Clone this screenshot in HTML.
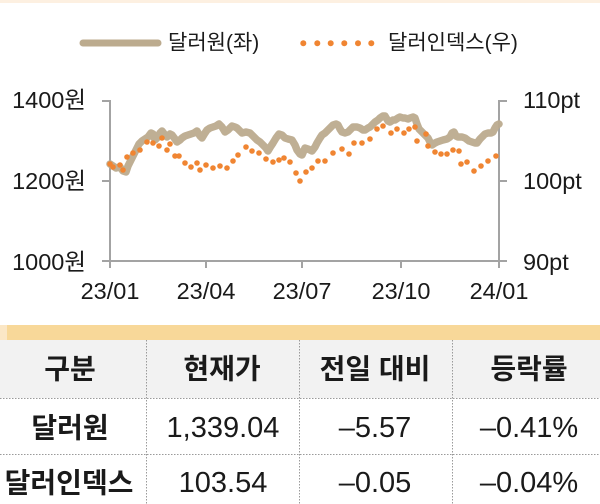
<!DOCTYPE html>
<html>
<head>
<meta charset="utf-8">
<style>
html,body{margin:0;padding:0;background:#fff;}
svg{display:block;}
text{font-family:"Liberation Sans","Noto Sans CJK KR",sans-serif;fill:#1a1a1a;}
</style>
</head>
<body>
<svg width="600" height="504" viewBox="0 0 600 504" xmlns="http://www.w3.org/2000/svg">
  <rect x="0" y="0" width="600" height="504" fill="#fff"/>
  <rect x="0" y="0" width="600" height="3" fill="#fdf0e1"/>

  <!-- Legend -->
  <line x1="83" y1="43" x2="158" y2="43" stroke="#bcab8e" stroke-width="7" stroke-linecap="round"/>
  <text x="168" y="43" font-size="21" dominant-baseline="central">달러원(좌)</text>
  <g fill="#f08532">
    <circle cx="303.3" cy="43.3" r="3"/>
    <circle cx="317.3" cy="43.3" r="3"/>
    <circle cx="330.7" cy="43.3" r="3"/>
    <circle cx="344.3" cy="43.3" r="3"/>
    <circle cx="358" cy="43.3" r="3"/>
    <circle cx="371.3" cy="43.3" r="3"/>
  </g>
  <text x="388" y="43" font-size="21" dominant-baseline="central">달러인덱스(우)</text>

  <!-- Axes -->
  <g stroke="#a3a3a3" stroke-width="2" fill="none">
    <line x1="110" y1="100" x2="110" y2="268"/>
    <line x1="102" y1="101" x2="110" y2="101"/>
    <line x1="102" y1="181" x2="110" y2="181"/>
    <line x1="102" y1="261" x2="110" y2="261"/>
    <line x1="499" y1="100" x2="499" y2="268"/>
    <line x1="499" y1="101" x2="507" y2="101"/>
    <line x1="499" y1="181" x2="507" y2="181"/>
    <line x1="499" y1="261" x2="507" y2="261"/>
    <line x1="110" y1="261" x2="499" y2="261"/>
    <line x1="206" y1="261" x2="206" y2="268"/>
    <line x1="302" y1="261" x2="302" y2="268"/>
    <line x1="401" y1="261" x2="401" y2="268"/>
  </g>

  <!-- Axis labels -->
  <g font-size="23.5">
    <text x="86" y="100" text-anchor="end" dominant-baseline="central">1400원</text>
    <text x="86" y="181" text-anchor="end" dominant-baseline="central">1200원</text>
    <text x="86" y="262" text-anchor="end" dominant-baseline="central">1000원</text>
    <text x="523" y="100" dominant-baseline="central">110pt</text>
    <text x="523" y="181" dominant-baseline="central">100pt</text>
    <text x="523" y="262" dominant-baseline="central">90pt</text>
    <text x="110" y="291" text-anchor="middle" dominant-baseline="central">23/01</text>
    <text x="206" y="291" text-anchor="middle" dominant-baseline="central">23/04</text>
    <text x="302" y="291" text-anchor="middle" dominant-baseline="central">23/07</text>
    <text x="401" y="291" text-anchor="middle" dominant-baseline="central">23/10</text>
    <text x="499" y="291" text-anchor="middle" dominant-baseline="central">24/01</text>
  </g>

  <!-- Dollar-won series -->
  <polyline fill="none" stroke="#bcab8e" stroke-width="7.5" stroke-linejoin="round" stroke-linecap="round" stroke-opacity="0.95"
    points="110,164 113,166 116,168 120,167 123,171 126,172 128,166 130,162 133,156 136,150 139,144 142,141 145,139 148,137 151,133 153,134 155,140 158,137 160,133 162,131 165,135 167,137 170,134 172,135 175,139 177,142 180,140 182,138 185,136 188,135 191,134 194,133 197,131 200,136 202,138 205,133 207,130 210,128 213,127 216,126 219,124 222,127 225,132 228,130 232,126 235,127 237,128 240,131 242,133 246,132 250,133 253,136 257,140 260,142 263,145 266,148 268,151 271,146 273,143 276,138 279,134 282,135 285,138 288,139 292,140 295,145 297,150 300,154 302,155 305,148 308,149 312,151 315,147 317,143 320,138 322,135 325,133 328,130 331,127 333,125 336,124 338,125 340,129 342,132 345,133 348,132 351,129 353,127 357,127 360,128 363,130 365,130 368,128 370,127 373,124 375,122 378,120 380,118 383,116 385,116 388,121 390,122 393,120 395,120 398,118 400,117 403,118 405,118 408,119 410,118 413,117 415,118 417,124 419,129 423,133 426,136 428,138 430,142 432,145 435,143 437,142 440,141 443,140 447,139 450,137 452,133 454,132 456,136 458,137 462,137 465,138 469,141 472,142 475,143 477,143 480,139 482,137 485,134 488,133 491,133 493,132 495,128 497,125 499,124"/>

  <!-- Dollar index dots -->
  <g fill="#f08532">
    <circle cx="110" cy="164" r="2.8"/><circle cx="113" cy="167" r="2.8"/><circle cx="120" cy="165" r="2.8"/>
    <circle cx="123" cy="170" r="2.8"/><circle cx="127" cy="157" r="2.8"/><circle cx="133" cy="153" r="2.8"/>
    <circle cx="140" cy="150" r="2.8"/><circle cx="147" cy="142" r="2.8"/><circle cx="153" cy="143" r="2.8"/>
    <circle cx="159" cy="146" r="2.8"/><circle cx="162" cy="138" r="2.8"/><circle cx="167" cy="150" r="2.8"/>
    <circle cx="170" cy="144" r="2.8"/><circle cx="175" cy="156" r="2.8"/><circle cx="179" cy="156" r="2.8"/>
    <circle cx="185" cy="163" r="2.8"/><circle cx="191" cy="167" r="2.8"/><circle cx="197" cy="163" r="2.8"/>
    <circle cx="200" cy="170" r="2.8"/><circle cx="206" cy="165" r="2.8"/><circle cx="213" cy="168" r="2.8"/>
    <circle cx="220" cy="166" r="2.8"/><circle cx="227" cy="168" r="2.8"/><circle cx="233" cy="161" r="2.8"/>
    <circle cx="238" cy="155" r="2.8"/><circle cx="246" cy="147" r="2.8"/><circle cx="252" cy="151" r="2.8"/>
    <circle cx="259" cy="153" r="2.8"/><circle cx="266" cy="159" r="2.8"/><circle cx="273" cy="162" r="2.8"/>
    <circle cx="279" cy="160" r="2.8"/><circle cx="284" cy="158" r="2.8"/><circle cx="290" cy="162" r="2.8"/>
    <circle cx="296" cy="173" r="2.8"/><circle cx="300" cy="181" r="2.8"/><circle cx="306" cy="172" r="2.8"/>
    <circle cx="312" cy="168" r="2.8"/><circle cx="318" cy="161" r="2.8"/><circle cx="325" cy="161" r="2.8"/>
    <circle cx="333" cy="153" r="2.8"/><circle cx="342" cy="149" r="2.8"/><circle cx="349" cy="154" r="2.8"/>
    <circle cx="354" cy="143" r="2.8"/><circle cx="362" cy="143" r="2.8"/><circle cx="370" cy="139" r="2.8"/>
    <circle cx="377" cy="129" r="2.8"/><circle cx="383" cy="126" r="2.8"/><circle cx="391" cy="133" r="2.8"/>
    <circle cx="397" cy="129" r="2.8"/><circle cx="404" cy="133" r="2.8"/><circle cx="409" cy="129" r="2.8"/>
    <circle cx="415" cy="127" r="2.8"/><circle cx="417" cy="141" r="2.8"/><circle cx="426" cy="134" r="2.8"/>
    <circle cx="428" cy="146" r="2.8"/><circle cx="435" cy="152" r="2.8"/><circle cx="441" cy="154" r="2.8"/>
    <circle cx="447" cy="154" r="2.8"/><circle cx="453" cy="150" r="2.8"/><circle cx="459" cy="151" r="2.8"/>
    <circle cx="461" cy="164" r="2.8"/><circle cx="467" cy="162" r="2.8"/><circle cx="474" cy="171" r="2.8"/>
    <circle cx="481" cy="166" r="2.8"/><circle cx="488" cy="161" r="2.8"/><circle cx="496" cy="156" r="2.8"/>
  </g>

  <!-- Table -->
  <rect x="0" y="325" width="8" height="15" fill="#fbe7c6"/>
  <rect x="7" y="325" width="593" height="15" fill="#f8d899"/>
  <rect x="0" y="340" width="600" height="58" fill="#f2f2f2"/>
  <g stroke="#9a9a9a" stroke-width="1" stroke-dasharray="1.5,1.5">
    <line x1="0" y1="398.5" x2="600" y2="398.5"/>
    <line x1="0" y1="454.5" x2="600" y2="454.5"/>
    <line x1="146.5" y1="340" x2="146.5" y2="504"/>
    <line x1="299.5" y1="340" x2="299.5" y2="504"/>
    <line x1="452.5" y1="340" x2="452.5" y2="504"/>
  </g>

  <g font-size="28" font-weight="bold" text-anchor="middle">
    <text x="70" y="369" dominant-baseline="central">구분</text>
    <text x="222" y="369" dominant-baseline="central">현재가</text>
    <text x="375" y="369" dominant-baseline="central">전일 대비</text>
    <text x="529" y="369" dominant-baseline="central">등락률</text>
    <text x="70" y="428" dominant-baseline="central">달러원</text>
    <text x="69" y="483" dominant-baseline="central">달러인덱스</text>
  </g>
  <g font-size="29" text-anchor="middle">
    <text x="223" y="428" dominant-baseline="central">1,339.04</text>
    <text x="375" y="428" dominant-baseline="central">–5.57</text>
    <text x="529" y="428" dominant-baseline="central">–0.41%</text>
    <text x="223" y="483" dominant-baseline="central">103.54</text>
    <text x="375" y="483" dominant-baseline="central">–0.05</text>
    <text x="529" y="483" dominant-baseline="central">–0.04%</text>
  </g>
</svg>
</body>
</html>
